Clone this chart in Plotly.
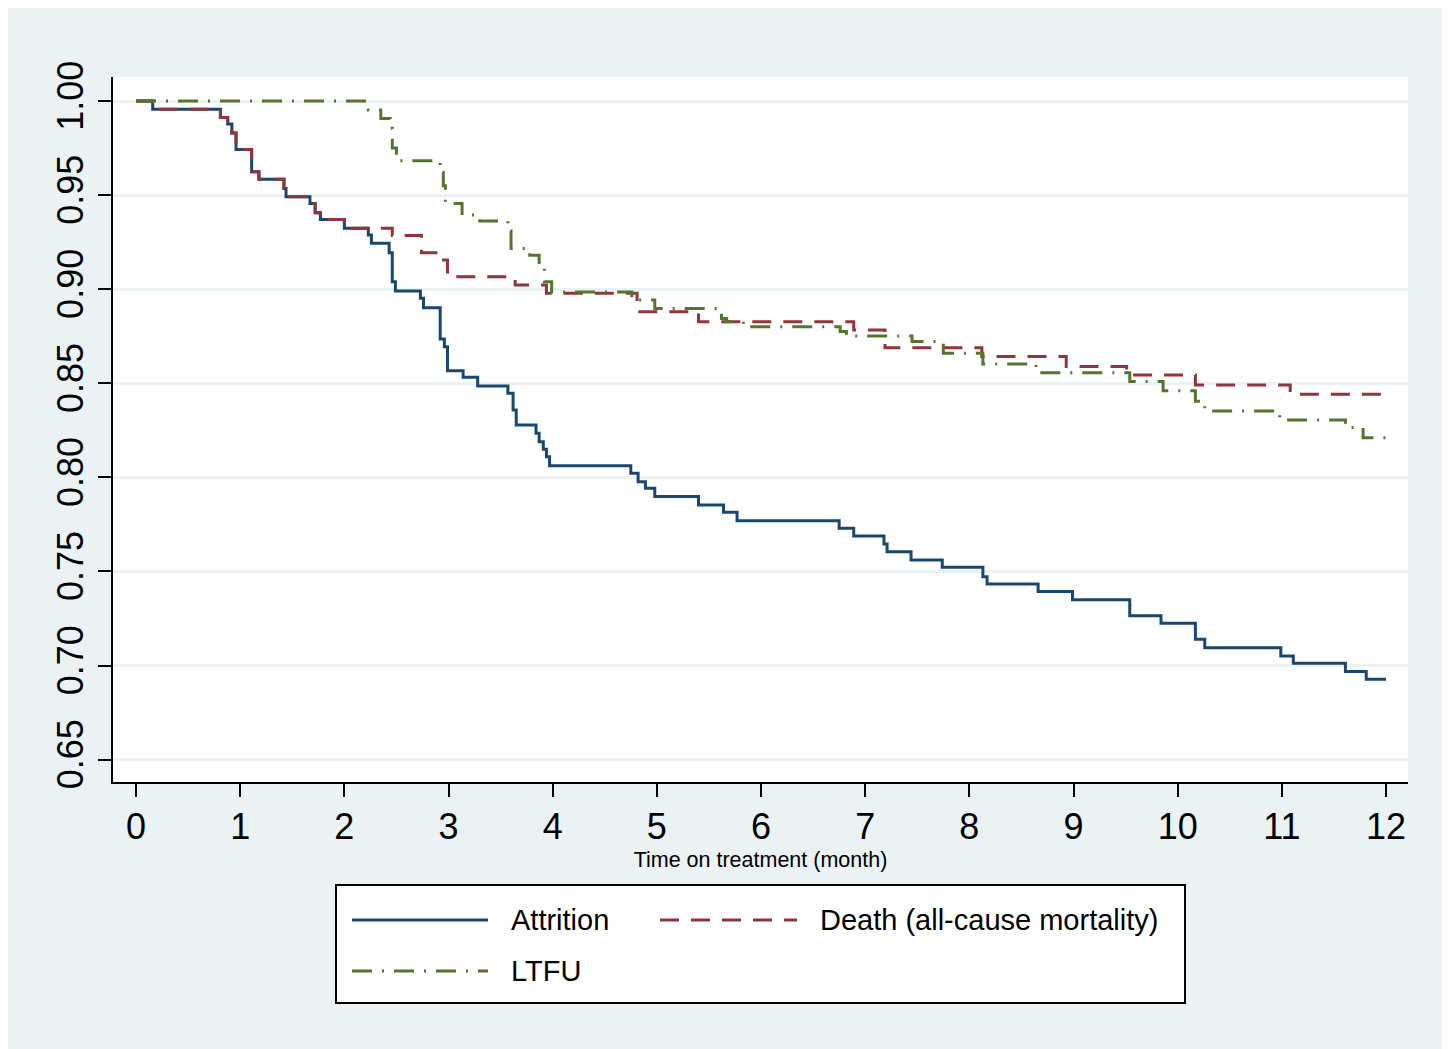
import plotly.graph_objects as go

# ---- data ----
attr_t = [0, 0.16, 0.81, 0.88, 0.92, 0.96, 1.11, 1.18, 1.42, 1.44, 1.67, 1.72, 1.77, 2.00,
          2.23, 2.26, 2.43, 2.46, 2.49, 2.73, 2.76, 2.92, 2.96, 2.99, 3.14, 3.28, 3.57, 3.62,
          3.65, 3.84, 3.87, 3.91, 3.94, 3.97, 4.75, 4.82, 4.89, 4.98, 5.40, 5.64, 5.77, 6.75,
          6.89, 7.18, 7.21, 7.44, 7.74, 8.13, 8.17, 8.66, 8.99, 9.54, 9.84, 10.17, 10.26,
          10.99, 11.11, 11.61, 11.81, 12.0]
attr_v = [1.0, 0.9956, 0.9913, 0.9878, 0.983, 0.9743, 0.9624, 0.9584, 0.9536, 0.9492, 0.9456,
          0.9407, 0.9371, 0.9324, 0.9288, 0.9244, 0.9194, 0.904, 0.899, 0.8952, 0.8902, 0.8735,
          0.8694, 0.8567, 0.8532, 0.8486, 0.8447, 0.8358, 0.8278, 0.8234, 0.819, 0.8149, 0.811,
          0.8062, 0.8022, 0.7977, 0.7942, 0.7898, 0.7853, 0.7815, 0.777, 0.773, 0.7689, 0.7646,
          0.7605, 0.7561, 0.7522, 0.7472, 0.7434, 0.7393, 0.7349, 0.7265, 0.7225, 0.714, 0.7095,
          0.7051, 0.7012, 0.6968, 0.6927, 0.6927]

death_t = [0, 0.16, 0.81, 0.88, 0.92, 0.96, 1.11, 1.18, 1.42, 1.44, 1.67, 1.72, 1.77, 2.00,
           2.46, 2.74, 2.93, 2.99, 3.64, 3.94, 4.81, 5.40, 6.89, 7.19, 8.12, 8.93, 9.51, 10.17,
           11.08, 12.0]
death_v = [1.0, 0.9956, 0.9913, 0.9878, 0.983, 0.9743, 0.9624, 0.9584, 0.9536, 0.9492, 0.9456,
           0.9407, 0.9371, 0.9324, 0.9286, 0.9194, 0.9155, 0.9066, 0.9022, 0.8978, 0.888,
           0.8827, 0.8783, 0.8689, 0.8642, 0.8589, 0.8544, 0.8491, 0.8442, 0.8442]

ltfu_t = [0, 2.23, 2.35, 2.44, 2.46, 2.50, 2.92, 2.95, 2.97, 3.13, 3.30, 3.57, 3.60, 3.78, 3.87,
          3.92, 3.99, 4.76, 4.98, 5.62, 5.67, 5.83, 6.76, 6.82, 7.45, 7.75, 8.13, 8.64, 9.54,
          9.86, 10.17, 10.26, 10.98, 11.61, 11.78, 12.0]
ltfu_v = [1.0, 0.9952, 0.9908, 0.9855, 0.975, 0.9683, 0.962, 0.955, 0.9456, 0.9394, 0.9362,
          0.931, 0.9217, 0.918, 0.912, 0.904, 0.8985, 0.8943, 0.8898, 0.8845, 0.8827, 0.880,
          0.8775, 0.8752, 0.8722, 0.866, 0.8603, 0.8556, 0.851, 0.846, 0.8405, 0.8353, 0.8305,
          0.8265, 0.8211, 0.8211]

series_names = ["Attrition", "Death (all-cause mortality)", "LTFU"]
x_ticks = list(range(0, 13))
y_ticks = [0.65, 0.70, 0.75, 0.80, 0.85, 0.90, 0.95, 1.00]
x_title = "Time on treatment (month)"

# ---- styles ----
BLUE, RED, GREEN = "#1A476F", "#90353B", "#55752F"
BG = "#EAF2F3"
FONT = "Arial, Liberation Sans, sans-serif"
DASH_RED = "19px,12px"
DASH_GREEN = "20px,10px,2px,10px"

fig = go.Figure()
fig.add_trace(go.Scatter(x=attr_t, y=attr_v, mode="lines", line_shape="hv",
                         line=dict(color=BLUE, width=3), name=series_names[0]))
fig.add_trace(go.Scatter(x=death_t, y=death_v, mode="lines", line_shape="hv",
                         line=dict(color=RED, width=3, dash=DASH_RED), name=series_names[1]))
fig.add_trace(go.Scatter(x=ltfu_t, y=ltfu_v, mode="lines", line_shape="hv",
                         line=dict(color=GREEN, width=3, dash=DASH_GREEN), name=series_names[2]))

OFF = 8  # page body margin
W, H = 1450 - OFF, 1049 - OFF
L, T = 113 - OFF, 77 - OFF
R = W - (1408 - OFF)
B = H - (782 - OFF)
pw, ph = W - L - R, H - T - B


def px(sx):
    return (sx - OFF - L) / pw


def py(sy):
    return (H - B - (sy - OFF)) / ph


shapes = [
    dict(type="rect", xref="paper", yref="paper", x0=px(336), x1=px(1185), y0=py(1003), y1=py(885),
         fillcolor="white", line=dict(color="black", width=2)),
]
legend_items = [
    (352, 488, 920, BLUE, "solid", 509, series_names[0]),
    (660, 797, 920, RED, DASH_RED, 818, series_names[1]),
    (352, 488, 971, GREEN, DASH_GREEN, 509, series_names[2]),
]
annotations = []
for x0, x1, yy, col, dsh, tx, label in legend_items:
    shapes.append(dict(type="line", xref="paper", yref="paper", x0=px(x0), x1=px(x1),
                       y0=py(yy), y1=py(yy), line=dict(color=col, width=3, dash=dsh)))
    annotations.append(dict(xref="paper", yref="paper", x=px(tx), y=py(yy), text=label,
                            showarrow=False, xanchor="left", yanchor="middle",
                            font=dict(family=FONT, size=29, color="black")))

fig.update_layout(
    width=W, height=H,
    margin=dict(l=L, r=R, t=T, b=B, pad=0),
    paper_bgcolor=BG, plot_bgcolor="white",
    showlegend=False,
    font=dict(family=FONT, color="black"),
    shapes=shapes, annotations=annotations,
)
fig.update_xaxes(range=[-0.221, 12.211], tickvals=x_ticks, showgrid=False, zeroline=False,
                 showline=True, linecolor="black", linewidth=2,
                 ticks="outside", ticklen=13, tickwidth=2, tickcolor="black",
                 tickfont=dict(size=36, family=FONT), ticklabelstandoff=-1,
                 title=dict(text=x_title, font=dict(size=21.5, family=FONT), standoff=6))
fig.update_yaxes(range=[0.6381, 1.0128], tickvals=y_ticks, tickformat=".2f", tickangle=-90,
                 showgrid=True, gridcolor=BG, gridwidth=3, zeroline=False,
                 showline=True, linecolor="black", linewidth=2,
                 ticks="outside", ticklen=13, tickwidth=2, tickcolor="black",
                 tickfont=dict(size=36, family=FONT), ticklabelstandoff=1)

fig.write_html("out.html")
